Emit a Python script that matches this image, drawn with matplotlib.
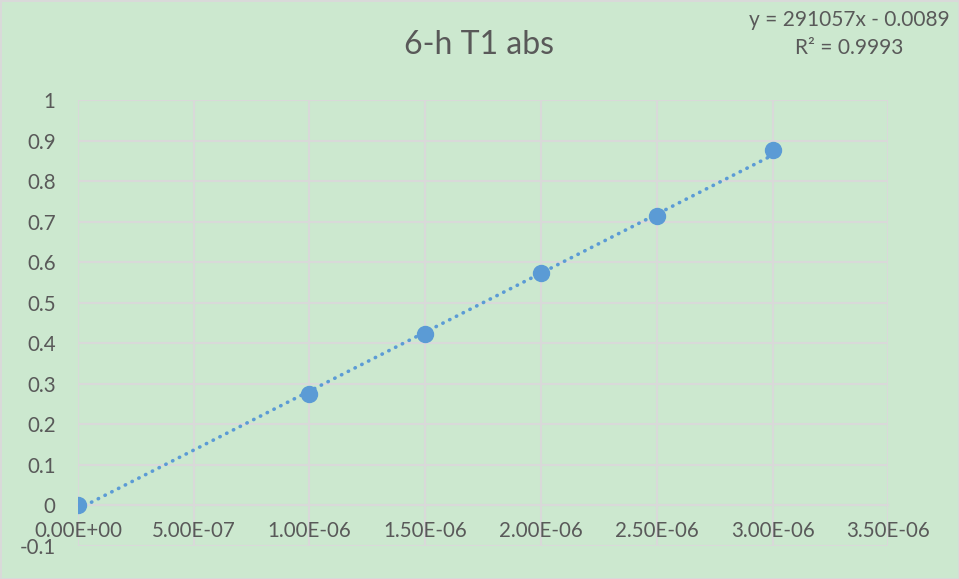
import matplotlib.pyplot as plt
from matplotlib.ticker import MultipleLocator

conc = [0.0, 1.0e-6, 1.5e-6, 2.0e-6, 2.5e-6, 3.0e-6]
absb = [0.0, 0.276, 0.424, 0.574, 0.713, 0.878]
slope = 291057
intercept = -0.0089
r2 = 0.9993

bg = '#CCE8CF'
txt = '#595959'
grid = '#D9D9D9'
blue = '#5B9BD5'

plt.rcParams['font.family'] = ['Lato', 'DejaVu Sans']

fig = plt.figure(figsize=(9.59, 5.79), dpi=100)
fig.patch.set_facecolor(bg)
fig.patch.set_edgecolor(grid)
fig.patch.set_linewidth(2)
ax = fig.add_axes([0.0813, 0.057, 0.845, 0.770])
ax.set_facecolor(bg)

# trendline
tx = [conc[0], conc[-1]]
ty = [slope * x + intercept for x in tx]
ax.plot(tx, ty, color=blue, lw=2.6, linestyle=(0, (0.1, 2.0)),
        dash_capstyle='round', zorder=3)
ax.plot(conc, absb, 'o', color=blue, ms=11.5, zorder=4)

ax.set_xlim(0, 3.5e-6)
ax.set_ylim(-0.1, 1.0)
ax.xaxis.set_major_locator(MultipleLocator(5e-7))
ax.yaxis.set_major_locator(MultipleLocator(0.1))
ax.xaxis.set_major_formatter(plt.FuncFormatter(lambda v, p: '%.2E' % v))
ax.yaxis.set_major_formatter(plt.FuncFormatter(lambda v, p: ('%.1f' % v).rstrip('0').rstrip('.') if abs(v) > 1e-9 else '0'))
ax.grid(True, color=grid, lw=1.5)
ax.set_axisbelow(True)
for s in ['top', 'right', 'left']:
    ax.spines[s].set_visible(False)
ax.spines['bottom'].set_position(('data', 0))
ax.spines['bottom'].set_color(grid)
ax.spines['bottom'].set_linewidth(1.5)
ax.tick_params(axis='both', length=0, labelsize=14.8, colors=txt)
ax.tick_params(axis='y', pad=16)
ax.tick_params(axis='x', pad=11)

fig.text(0.5, 0.922, '6-h T1 abs', ha='center', va='center', fontsize=23, color=txt)
fig.text(0.886, 0.965, 'y = %dx - %.4f' % (slope, -intercept), ha='center', va='center',
         fontsize=15, color=txt)
fig.text(0.886, 0.917, 'R² = %.4f' % r2, ha='center', va='center', fontsize=15, color=txt)

fig.savefig('out.png', dpi=100, facecolor=bg, edgecolor=grid)
